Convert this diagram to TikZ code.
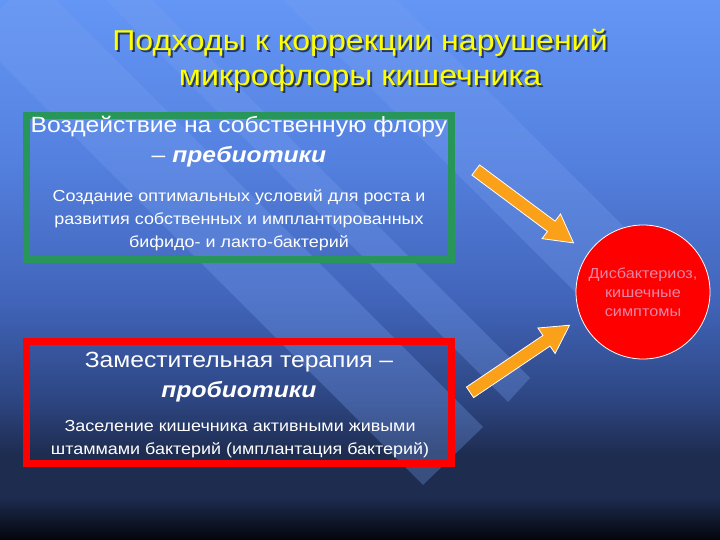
\documentclass[tikz,border=0pt]{standalone}
\usepackage{fontspec}
\setmainfont{Liberation Sans}[FakeStretch = 1.12]
\usetikzlibrary{positioning}
\usetikzlibrary{shapes.arrows}

\definecolor{bgtop}{RGB}{100,150,245}
\definecolor{bgupper}{RGB}{85,130,225}
\definecolor{bgmid}{RGB}{65,100,185}
\definecolor{bglow}{RGB}{45,70,130}
\definecolor{bgdeep}{RGB}{30,44,80}
\definecolor{bgbot}{RGB}{4,5,12}
\definecolor{stripeblue}{RGB}{120,160,240}
\definecolor{titleyellow}{RGB}{255,255,0}
\definecolor{boxgreen}{RGB}{40,150,90}
\definecolor{arroworange}{RGB}{250,160,25}
\definecolor{circletext}{RGB}{228,135,168}

\pgfdeclareverticalshading{slidebg}{100bp}{color(0bp)=(bgbot); color(25bp)=(bgbot);
  color(29bp)=(bgdeep); color(33bp)=(bgdeep); color(38bp)=(bglow); color(47bp)=(bgmid);
  color(61bp)=(bgupper); color(75bp)=(bgtop); color(100bp)=(bgtop)}

\tikzset{
  headtext/.style = {text = white, align = center, font = \fontsize{22}{30}\selectfont},
  desctext/.style = {text = white, align = center, font = \fontsize{16}{23}\selectfont},
  titletext/.style = {align = center, font = \fontsize{28.7}{35}\selectfont},
  blockarrow/.style = {single arrow, fill = arroworange, draw = white, line width = 0.8pt,
    inner sep = 6pt, single arrow head extend = 9pt, single arrow tip angle = 58},
  stripe/.style = {fill = stripeblue, opacity = 0.3}
}

\begin{document}
\begin{tikzpicture}[x = 1pt, y = -1pt]

        % background
        \useasboundingbox (0,0) rectangle (720,540);
        \shade[shading = slidebg] (0,0) rectangle (720,540);
        \fill[stripe] (423,485) -- (483,427) -- (33,-23) -- (-27,35) -- cycle;
        \fill[stripe] (508,402) -- (530,378) -- (80,-72) -- (58,-48) -- cycle;
        \fill[stripe] (600,317) -- (657,260) -- (57,-340) -- (0,-283) -- cycle;

        % title
        \node[titletext, text = black, opacity = 0.6] (titleshadow) at (362,62)
            {Подходы к коррекции нарушений\\микрофлоры кишечника};
        \node[titletext, text = titleyellow] (title) at (360,60)
            {Подходы к коррекции нарушений\\микрофлоры кишечника};

        % prebiotics box
        \node[draw = boxgreen, line width = 7pt, minimum width = 425pt, minimum height = 143pt] (prebox) at (238.5,187.5) {};
        \node[headtext] (prehead) at (239,142) {Воздействие на собственную флору\\– \textbf{\textit{пребиотики}}};
        \node[desctext] (predesc) at (239,220) {Создание оптимальных условий для роста и\\развития собственных и имплантированных\\бифидо- и лакто-бактерий};

        % probiotics box
        \node[draw = red, line width = 7pt, minimum width = 425pt, minimum height = 122pt] (probox) at (239,402.5) {};
        \node[headtext] (prohead) at (239,377) {Заместительная терапия –\\\textbf{\textit{пробиотики}}};
        \node[desctext] (prodesc) at (240,439) {Заселение кишечника активными живыми\\штаммами бактерий (имплантация бактерий)};

        % dysbiosis
        \node[circle, fill = red, draw = white, line width = 0.8pt, minimum size = 134pt, inner sep = 0pt,
            text = circletext, align = center, font = \fontsize{14.5}{19}\selectfont] (dysbio) at (643,292)
            {Дисбактериоз,\\кишечные\\симптомы};

        % arrows
        \node[blockarrow, minimum height = 122pt, rotate = -36.7] (arrowpre) at (520,203) {};
        \node[blockarrow, minimum height = 120pt, rotate = 34] (arrowpro) at (515,362) {};
    \end{tikzpicture}
\end{document}
